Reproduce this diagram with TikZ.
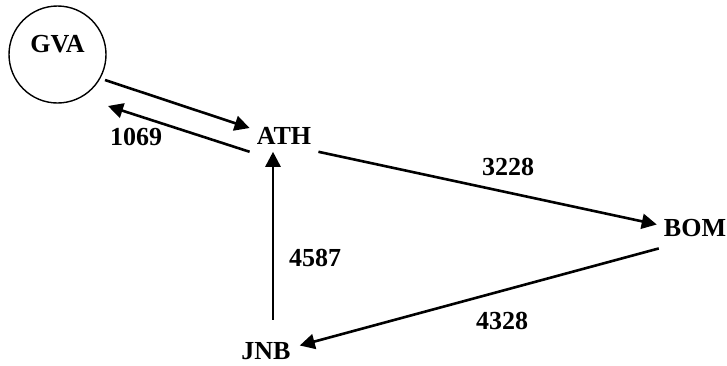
\documentclass[tikz,border=0pt]{standalone}
\usepackage{fontspec}
\setmainfont{Liberation Serif}
\usetikzlibrary{arrows.meta}

\begin{document}
\begin{tikzpicture}[
    x=1pt, y=-1pt,
    city/.style={inner sep=7pt, font=\fontsize{26}{30}\selectfont\bfseries},
    hub/.style={circle, draw, line width=1.4pt, minimum size=97pt, inner sep=0pt},
    dist/.style={inner sep=0pt, font=\fontsize{26}{30}\selectfont\bfseries},
    route/.style={-{Triangle[length=15pt, width=15pt]}, line width=2.6pt}
]
\useasboundingbox (0,0) rectangle (727,365);

\node[hub] (gva) at (57.5,54.5) {};
\node[city] (gvalabel) at ([yshift=10.5pt]gva.center) {GVA};
\node[city] (ath) at (284,136) {ATH};
\node[city] (bom) at (695,228.5) {BOM};
\node[city] (jnb) at (266,351.5) {JNB};

\node[dist] (d1069) at (136,137) {1069};
\node[dist] (d3228) at (508,167) {3228};
\node[dist] (d4587) at (315,258) {4587};
\node[dist] (d4328) at (502,320.5) {4328};

\draw[route] ([shift={(47.5,25.5)}]gva.center) -- ([yshift=8pt]ath.west);
\draw[route] (ath.south west) -- ([shift={(50.5,51.5)}]gva.center);
\draw[route] (ath.south east) -- ([yshift=4pt]bom.west);
\draw[route] ([shift={(2,4)}]bom.south west) -- ([shift={(2,-6)}]jnb.east);
\draw[route] ([shift={(7,-16)}]jnb.north) -- ([xshift=-11pt]ath.south);

\end{tikzpicture}
\end{document}
